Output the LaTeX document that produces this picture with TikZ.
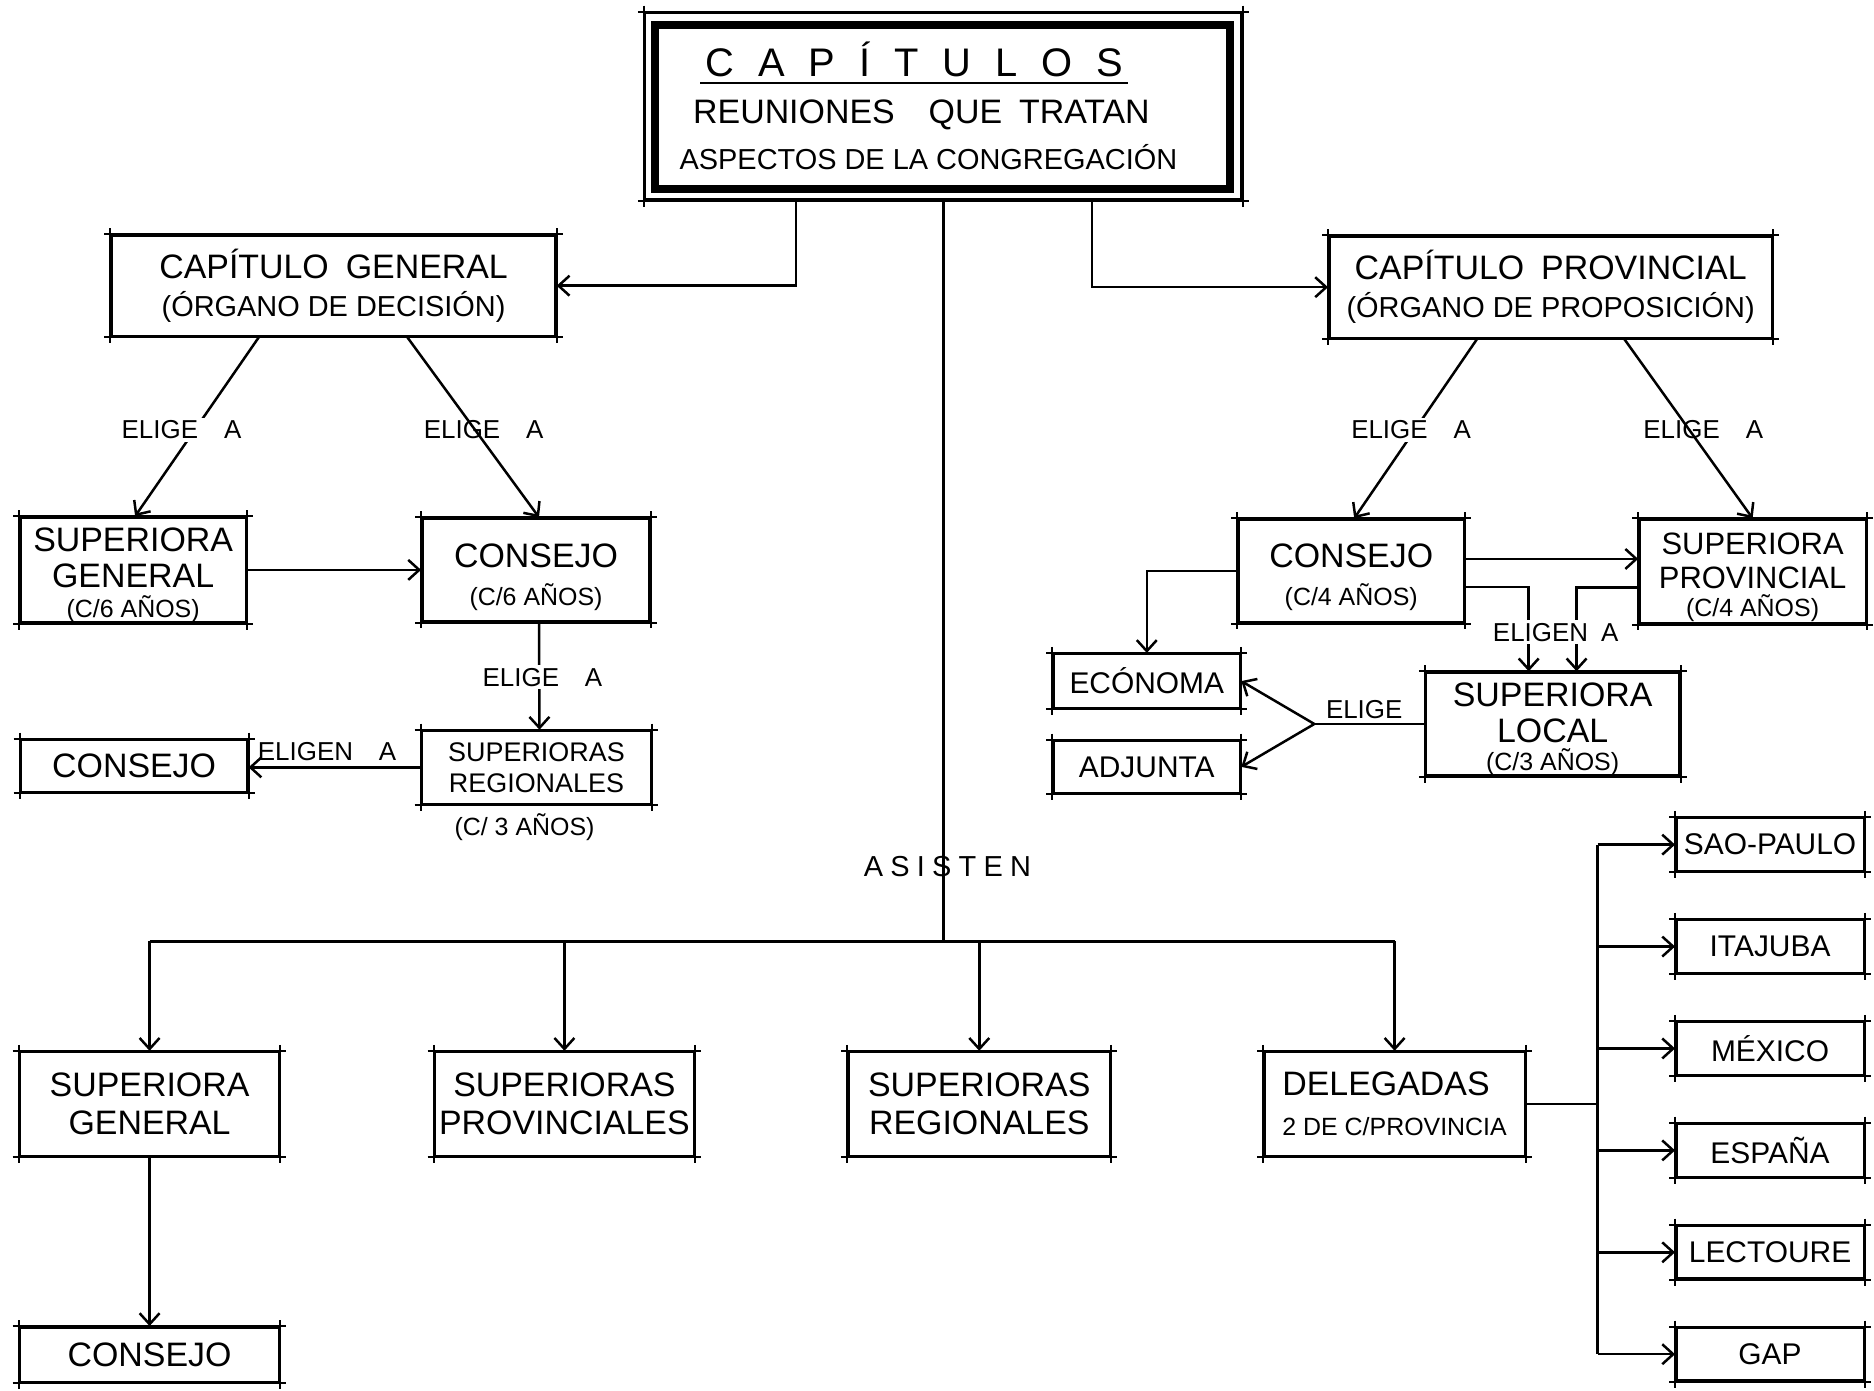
\documentclass[tikz,border=0pt]{standalone}
\usepackage{fontspec}
\setmainfont{Liberation Sans}
\usetikzlibrary{arrows.meta}

\newcommand\fTit{\fontsize{40}{44}\selectfont}
\newcommand\fHd{\fontsize{34}{38}\selectfont}
\newcommand\fHe{\fontsize{29}{34}\selectfont}
\newcommand\fBx{\fontsize{34}{36}\selectfont}
\newcommand\fBs{\fontsize{31}{34}\selectfont}
\newcommand\fPar{\fontsize{29}{34}\selectfont}
\newcommand\fSr{\fontsize{27}{31}\selectfont}
\newcommand\fSm{\fontsize{25}{30}\selectfont}
\newcommand\fLb{\fontsize{26}{30}\selectfont}
\newcommand\fCt{\fontsize{30}{34}\selectfont}
\newcommand\fAs{\fontsize{29}{32}\selectfont}
\newcommand\lift[1]{\rule{0pt}{#1}}

\begin{document}
\begin{tikzpicture}[x=1pt,y=-1pt,line width=2.5pt,
  box/.style={draw, line width=2.5pt, align=center, inner sep=0pt},
  arr/.style={-{Straight Barb[length=11pt,width=20pt]}},
  lbl/.style={font=\fLb, inner sep=3pt},
  lblw/.style={lbl, fill=white}]
\path[fill=white] (0,0) rectangle (1874,1388);
% Header
\node[box, minimum width=598pt, minimum height=187pt] (topo) at (946,106.5) {};
\node[draw, line width=8pt, minimum width=576pt, minimum height=165pt, inner sep=0pt] (topi) at (945,107.5) {};
\node[font=\fTit, inner sep=4pt] (ttl) at (917,60) {\addfontfeature{LetterSpace=60}CAPÍTULOS};
\node[font=\fHd] (ttlb) at (924,115) {REUNIONES\quad QUE\enspace TRATAN};
\node[font=\fHe] (ttlc) at (931,158) {ASPECTOS DE LA CONGREGACIÓN};
\draw[line width=2pt] (ttl.south west) -- (ttl.south east);
% General chapter
\node[box, minimum width=445pt, minimum height=101pt, font=\fBx] (cg) at (334.5,286.5) {CAPÍTULO\enspace GENERAL\\[2pt]{\fPar (ÓRGANO DE DECISIÓN)}};
\node[box, minimum width=226pt, minimum height=103pt, font=\fBx] (sg) at (133.5,571.5) {\lift{34pt}SUPERIORA\\GENERAL\\[-6pt]{\fSm (C/6 AÑOS)}};
\node[box, minimum width=228pt, minimum height=103pt, font=\fBx] (csg) at (537.5,571.5) {\lift{38pt}CONSEJO\\[2pt]{\fSm (C/6 AÑOS)}};
\node[box, minimum width=230pt, minimum height=73pt, font=\fSr] (srg) at (538,769.5) {SUPERIORAS\\REGIONALES};
\node[font=\fSm] (srgy) at (526,829) {(C/ 3 AÑOS)};
\node[box, minimum width=227pt, minimum height=52pt, font=\fBx] (csr) at (134.5,768) {CONSEJO};
% Provincial chapter
\node[box, minimum width=444pt, minimum height=102pt, font=\fBx] (cp) at (1555,288) {CAPÍTULO\enspace PROVINCIAL\\[2pt]{\fPar (ÓRGANO DE PROPOSICIÓN)}};
\node[box, minimum width=226pt, minimum height=103pt, font=\fBx] (csp) at (1355,572.5) {\lift{36pt}CONSEJO\\[2pt]{\fSm (C/4 AÑOS)}};
\node[box, minimum width=227pt, minimum height=104pt, font=\fBs] (spp) at (1757.5,573) {\lift{34pt}SUPERIORA\\PROVINCIAL\\[-6pt]{\fSm (C/4 AÑOS)}};
\node[box, minimum width=187pt, minimum height=54pt, font=\fCt] (eco) at (1150,683) {ECÓNOMA};
\node[box, minimum width=187pt, minimum height=52pt, font=\fCt] (adj) at (1150,769) {ADJUNTA};
\node[box, minimum width=254pt, minimum height=102pt, font=\fBx] (sl) at (1557,726) {\lift{34pt}SUPERIORA\\LOCAL\\[-8pt]{\fSm (C/3 AÑOS)}};
% Who attends
\node[box, minimum width=260pt, minimum height=104pt, font=\fBx] (sgb) at (150,1107) {SUPERIORA\\[2pt]GENERAL};
\node[box, minimum width=260pt, minimum height=104pt, font=\fBx] (spb) at (566,1107) {SUPERIORAS\\[2pt]PROVINCIALES};
\node[box, minimum width=262pt, minimum height=104pt, font=\fBx] (srb) at (982,1107) {SUPERIORAS\\[2pt]REGIONALES};
\node[box, minimum width=261pt, minimum height=104pt, font=\fBx, align=left] (del) at (1398.5,1107) {DELEGADAS\\[4pt]{\fSm 2 DE C/PROVINCIA}};
\node[box, minimum width=260pt, minimum height=55pt, font=\fBx] (cons3) at (150,1358.5) {CONSEJO};
% Provinces
\foreach \n/\t [count=\i from 0] in {sao/SAO-PAULO, ita/ITAJUBA, mex/MÉXICO, esp/ESPAÑA, lec/LECTOURE, gap/GAP}
  \node[box, minimum width=188pt, minimum height=53pt, font=\fCt] (\n) at (1775,{847+102.2*\i}) {\t};
% Box corners
\foreach \n in {topo,cg,sg,csg,srg,csr,cp,csp,spp,eco,adj,sl,sgb,spb,srb,del,cons3,sao,ita,mex,esp,lec,gap} {
  \draw[line width=2pt] ([xshift=-6pt]\n.north west) -- ([xshift=6pt]\n.north east)
    ([xshift=-6pt]\n.south west) -- ([xshift=6pt]\n.south east)
    ([yshift=6pt]\n.north west) -- ([yshift=-6pt]\n.south west)
    ([yshift=6pt]\n.north east) -- ([yshift=-6pt]\n.south east);
}
% Header connectors
\draw[arr] ([xshift=-148pt]topo.south) |- (cg.east);
\draw[arr] ([xshift=149pt]topo.south) |- (cp.west);
\coordinate (hub) at (946,944);
\draw (topo.south) -- (hub);
% General chapter connectors
\draw[arr] ([xshift=-75pt]cg.south) -- ([xshift=2pt]sg.north);
\draw[arr] ([xshift=74pt]cg.south) -- ([xshift=3pt]csg.north);
\draw[arr] (sg.east) -- (sg.east -| csg.west);
\draw[arr] ([xshift=3pt]csg.south) -- ([xshift=3pt]srg.north);
\draw[arr] (srg.west) -- (srg.west -| csr.east);
% Provincial chapter connectors
\draw[arr] ([xshift=-74pt]cp.south) -- ([xshift=3pt]csp.north);
\draw[arr] ([xshift=74pt]cp.south) -- (spp.north);
\draw[arr] ([yshift=12pt]csp.east) -- ([yshift=12pt]csp.east -| spp.west);
\draw[arr] (csp.west) -| (eco.north);
\draw[arr] ([yshift=-16pt]csp.east) -| ([xshift=-24pt]sl.north);
\draw[arr] ([yshift=-16pt]spp.west) -| ([xshift=24pt]sl.north);
\coordinate (fork) at (1318,726);
\draw (sl.west) -- (fork);
\draw[arr] (fork) -- (eco.east);
\draw[arr] (fork) -- (adj.east);
% Attendance connectors
\draw (sgb.north |- hub) -- (del.north |- hub);
\foreach \n in {sgb,spb,srb,del} \draw[arr] (\n.north |- hub) -- (\n.north);
\draw[arr] (sgb.south) -- (cons3.north);
\coordinate (spine) at (1602,1107);
\draw (del.east) -- (spine);
\draw (spine |- sao.west) -- (spine |- gap.west);
\foreach \n in {sao,ita,mex,esp,lec,gap} \draw[arr] (spine |- \n.west) -- (\n.west);
% Labels
\node[lblw] (la) at (182,431) {ELIGE\quad A};
\node[lbl] (lb) at (485,431) {ELIGE\quad A};
\node[lblw] (lc) at (544,679) {ELIGE\quad A};
\node[lbl] (ld) at (328,754) {ELIGEN\quad A};
\node[lblw] (le) at (1415,431) {ELIGE\quad A};
\node[lbl] (lf) at (1708,431) {ELIGE\quad A};
\node[lblw] (lg) at (1560,634) {ELIGEN\enspace A};
\node[lbl] (lh) at (1368,712) {ELIGE};
\node[font=\fAs] (asis) at (950,869) {\addfontfeature{LetterSpace=25}ASISTEN};
\end{tikzpicture}
\end{document}
